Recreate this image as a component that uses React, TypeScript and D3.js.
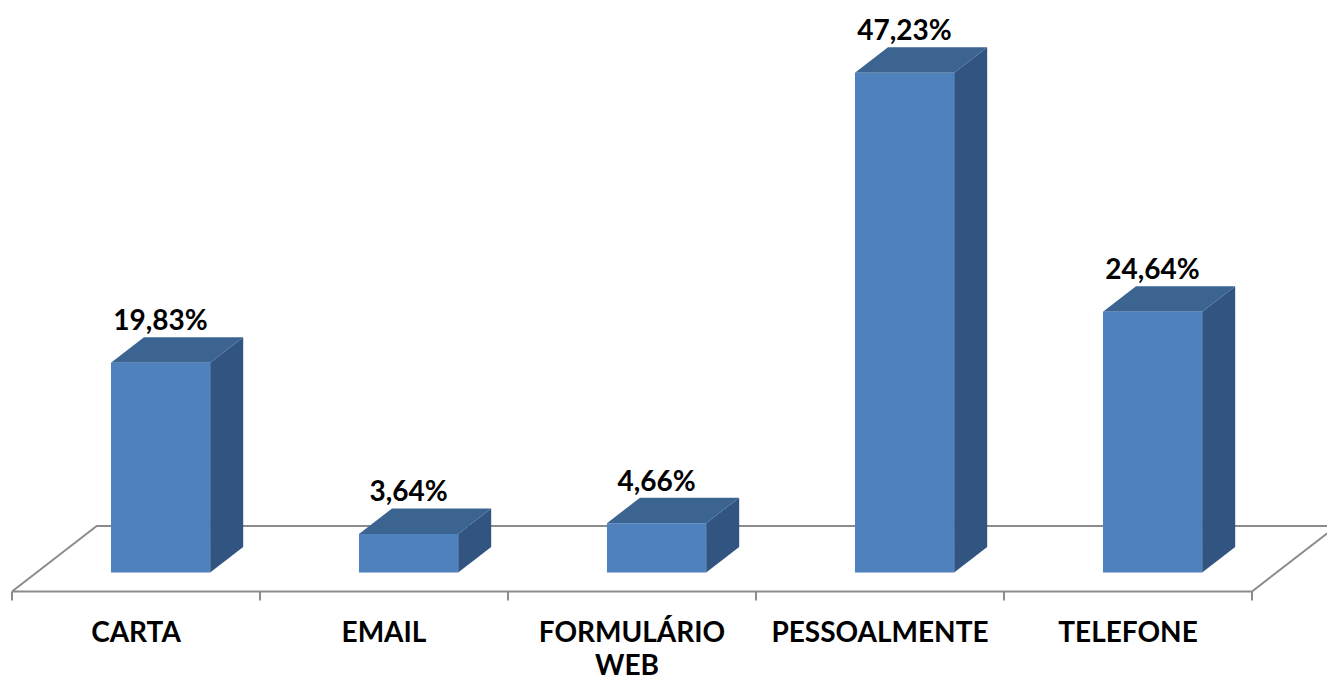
import React, { useEffect, useRef } from "react";
import * as d3 from "d3";

const categories = ["CARTA", "EMAIL", "FORMULÁRIO WEB", "PESSOALMENTE", "TELEFONE"];
const labelLines = [["CARTA"], ["EMAIL"], ["FORMULÁRIO", "WEB"], ["PESSOALMENTE"], ["TELEFONE"]];
const values = [19.83, 3.64, 4.66, 47.23, 24.64];
const valueLabels = ["19,83%", "3,64%", "4,66%", "47,23%", "24,64%"];

const W = 1327;
const H = 681;

const App = () => {
  const ref = useRef<SVGSVGElement>(null);

  useEffect(() => {
    const svg = d3.select(ref.current);
    svg.selectAll("*").remove();

    const floorFront = 591.5;
    // depth of the floor, as a vector going back and to the right
    const depth = { dx: 84.7, dy: -65.5 };
    const barFront = 0.29;
    const barBack = 0.68;

    const x = d3.scaleBand().domain(categories).range([12, 1252]).paddingInner(0).paddingOuter(0);
    const bw = x.bandwidth();
    const barW = bw * 0.4;

    const base = floorFront + barFront * depth.dy;
    const y = d3.scaleLinear().domain([0, 50]).range([base, base - 529]);

    const floorColor = "#8c8c8c";
    const g = svg.append("g");

    // floor
    const x0 = 12, x1 = 1252;
    const floor = d3.path();
    floor.moveTo(x0, floorFront);
    floor.lineTo(x0 + depth.dx, floorFront + depth.dy);
    floor.lineTo(x1 + depth.dx, floorFront + depth.dy);
    floor.moveTo(x0, floorFront);
    floor.lineTo(x1, floorFront);
    floor.lineTo(x1 + depth.dx, floorFront + depth.dy);
    g.append("path")
      .attr("d", floor.toString())
      .attr("fill", "none")
      .attr("stroke", floorColor)
      .attr("stroke-width", 2);

    // ticks
    const ticks = categories.map((c) => x(c)!).concat([x1]);
    g.selectAll(".tick")
      .data(ticks)
      .join("line")
      .attr("x1", (d) => d)
      .attr("x2", (d) => d)
      .attr("y1", floorFront)
      .attr("y2", floorFront + 9)
      .attr("stroke", floorColor)
      .attr("stroke-width", 2);

    const bdx = depth.dx * (barBack - barFront);
    const bdy = depth.dy * (barBack - barFront);

    const bars = g
      .selectAll(".bar")
      .data(values)
      .join("g")
      .attr("class", "bar");

    bars.each(function (v, i) {
      const el = d3.select(this);
      const left = x(categories[i])! + depth.dx * barFront + (bw - barW) / 2;
      const right = left + barW;
      const top = y(v);
      const bottom = base;
      // side
      el.append("polygon")
        .attr(
          "points",
          [
            [right, bottom],
            [right + bdx, bottom + bdy],
            [right + bdx, top + bdy],
            [right, top],
          ].join(" ")
        )
        .attr("fill", "#325480");
      // top
      el.append("polygon")
        .attr(
          "points",
          [
            [left, top],
            [left + bdx, top + bdy],
            [right + bdx, top + bdy],
            [right, top],
          ].join(" ")
        )
        .attr("fill", "#3c6490");
      // front
      el.append("rect")
        .attr("x", left)
        .attr("y", top)
        .attr("width", barW)
        .attr("height", bottom - top)
        .attr("fill", "#4f81bd");
      el.append("text")
        .attr("x", left + barW / 2)
        .attr("y", top + bdy - 7)
        .attr("text-anchor", "middle")
        .attr("font-family", "Lato, 'Open Sans', sans-serif")
        .attr("font-weight", 700)
        .attr("font-size", 28)
        .attr("fill", "#000")
        .text(valueLabels[i]);
    });

    // category labels
    g.selectAll(".cat")
      .data(categories)
      .join("text")
      .attr("class", "cat")
      .attr("x", (d) => x(d)! + bw / 2)
      .attr("y", 642)
      .attr("text-anchor", "middle")
      .attr("font-family", "Lato, 'Open Sans', sans-serif")
      .attr("font-weight", 700)
      .attr("font-size", 28)
      .attr("fill", "#000")
      .each(function (d, i) {
        const t = d3.select(this);
        labelLines[i].forEach((line, k) => {
          t.append("tspan")
            .attr("x", x(d)! + bw / 2 - (k > 0 ? 5 : 0))
            .attr("dy", k === 0 ? 0 : 33)
            .text(line);
        });
      });
  }, []);

  return (
    <svg
      ref={ref}
      width={W}
      height={H}
      style={{ position: "absolute", left: 0, top: 0, display: "block", background: "#fff" }}
    />
  );
};

export default App;
